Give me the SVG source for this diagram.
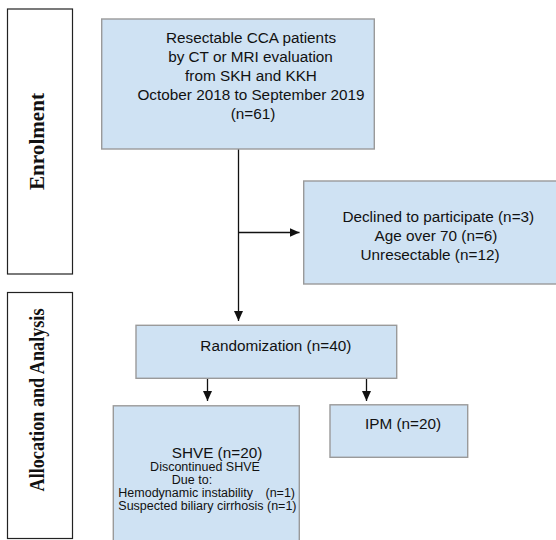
<svg xmlns="http://www.w3.org/2000/svg" width="556" height="540" viewBox="0 0 556 540">
<style>
.lbl{fill:#fff;stroke:#222;stroke-width:1.2}
.side{font-family:"Liberation Serif","Times New Roman",serif;font-weight:bold;font-size:22px;fill:#111}
.node{fill:#cfe2f3;stroke:#9a9a9a;stroke-width:1.4}
.t{font-family:"Liberation Sans",Arial,sans-serif;font-size:15.3px;fill:#111}
.s{font-family:"Liberation Sans",Arial,sans-serif;font-size:12.5px;fill:#111}
.c{text-anchor:middle}
.edge{stroke:#111;stroke-width:1.3;fill:none}
</style>
<defs>
<marker id="ah" markerUnits="userSpaceOnUse" markerWidth="11" markerHeight="9" refX="10" refY="4.5" orient="auto">
<path d="M0,0 L10,4.5 L0,9 z" fill="#111"/>
</marker>
</defs>
<rect width="556" height="540" fill="#fff"/>
<g id="enrolment-label">
<rect class="lbl" x="7.5" y="9" width="65" height="265"/>
<text class="side" transform="translate(44,141.5) rotate(-90)" text-anchor="middle" textLength="97" lengthAdjust="spacingAndGlyphs">Enrolment</text>
</g>
<g id="allocation-label">
<rect class="lbl" x="7.5" y="292.5" width="65" height="246"/>
<text class="side" transform="translate(44,400) rotate(-90)" text-anchor="middle" textLength="183" lengthAdjust="spacingAndGlyphs">Allocation and Analysis</text>
</g>
<g id="connectors">
<line class="edge" x1="238.5" y1="149" x2="238.5" y2="321" marker-end="url(#ah)"/>
<line class="edge" x1="238.5" y1="232.5" x2="299.5" y2="232.5" marker-end="url(#ah)"/>
<line class="edge" x1="207.5" y1="378.5" x2="207.5" y2="401" marker-end="url(#ah)"/>
<line class="edge" x1="366.5" y1="378.5" x2="366.5" y2="401" marker-end="url(#ah)"/>
</g>
<g id="patients">
<rect class="node" x="101.7" y="19" width="272.6" height="130"/>
<text class="t c" x="251" y="42.5">Resectable CCA patients</text>
<text class="t c" x="250.5" y="61.5">by CT or MRI evaluation</text>
<text class="t c" x="251" y="80.5">from SKH and KKH</text>
<text class="t c" x="251" y="99.5">October 2018 to September 2019</text>
<text class="t c" x="253" y="118.5">(n=61)</text>
</g>
<g id="excluded">
<rect class="node" x="303.7" y="181" width="260" height="103"/>
<text class="t c" x="438.3" y="221.5">Declined to participate (n=3)</text>
<text class="t c" x="436" y="240.5">Age over 70 (n=6)</text>
<text class="t c" x="430" y="259.5">Unresectable (n=12)</text>
</g>
<g id="randomization">
<rect class="node" x="136" y="325.3" width="260.7" height="53"/>
<text class="t c" x="275.8" y="350.5">Randomization (n=40)</text>
</g>
<g id="shve">
<rect class="node" x="113.3" y="405.8" width="186" height="145"/>
<text class="t c" x="217" y="457.5">SHVE (n=20)</text>
<text class="s c" x="205" y="470.5">Discontinued SHVE</text>
<text class="s c" x="192" y="484">Due to:</text>
<text class="s" x="118.3" y="497">Hemodynamic instability</text>
<text class="s" x="295" y="497" text-anchor="end">(n=1)</text>
<text class="s" x="118.3" y="510">Suspected biliary cirrhosis (n=1)</text>
</g>
<g id="ipm">
<rect class="node" x="330" y="404.8" width="137.7" height="52.5"/>
<text class="t c" x="403" y="429.3">IPM (n=20)</text>
</g>
</svg>
